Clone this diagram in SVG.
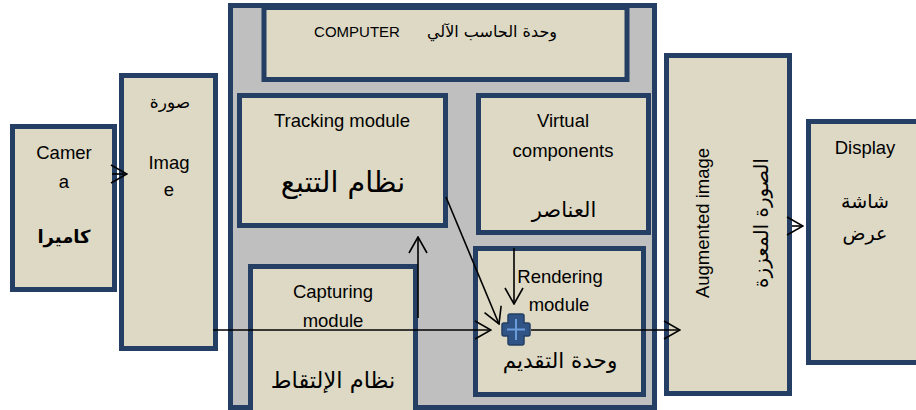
<svg xmlns="http://www.w3.org/2000/svg" width="916" height="410" viewBox="0 0 916 410">
<defs>
<style>
.box{fill:#DDD9C4;stroke:#243F63;stroke-width:5}
.outer{fill:#BFBFBF;stroke:#243F63;stroke-width:5}
.en{font-family:"Liberation Sans",Arial,sans-serif;font-size:18.5px;fill:#000;text-anchor:middle}
.ar{font-family:"DejaVu Sans","Noto Sans",sans-serif;fill:#000;text-anchor:middle}
.ln{stroke:#000;stroke-width:1.6;fill:none}
</style>
<marker id="arr" viewBox="0 0 18 20" refX="17" refY="10" markerWidth="18" markerHeight="20" markerUnits="userSpaceOnUse" orient="auto">
<path d="M1,1 L17,10 L1,19" fill="none" stroke="#000" stroke-width="1.6"/>
</marker>
</defs>

<g id="camera">
<rect class="box" x="12.5" y="126.5" width="102" height="163"/>
<text class="en" x="64" y="159">Camer</text>
<text class="en" x="64" y="188">a</text>
<text class="ar" x="64" y="243" font-size="18" font-weight="bold">كاميرا</text>
</g>

<g id="image">
<rect class="box" x="121.5" y="75.5" width="94" height="273"/>
<text class="ar" x="170" y="108" font-size="17">صورة</text>
<text class="en" x="169" y="169">Imag</text>
<text class="en" x="169" y="196">e</text>
</g>

<g id="computer">
<rect class="outer" x="230.5" y="5.5" width="424" height="402"/>
</g>

<g id="computer-title">
<rect class="box" x="264" y="7.5" width="363" height="72"/>
<text x="357" y="37" font-family="Liberation Sans,Arial,sans-serif" font-size="15" text-anchor="middle">COMPUTER</text>
<text class="ar" x="492" y="37" font-size="16">وحدة الحاسب الآلي</text>
</g>

<g id="tracking">
<rect class="box" x="239.5" y="95.5" width="206" height="130"/>
<text class="en" x="342" y="127">Tracking module</text>
<text class="ar" x="343" y="192" font-size="28.5">نظام التتبع</text>
</g>

<g id="virtual">
<rect class="box" x="478.5" y="95.5" width="170" height="137"/>
<text class="en" x="563" y="127">Virtual</text>
<text class="en" x="563" y="157">components</text>
<text class="ar" x="564" y="217" font-size="21">العناصر</text>
</g>

<g id="capturing">
<rect class="box" x="250.5" y="266.5" width="165" height="150"/>
<text class="en" x="333" y="298">Capturing</text>
<text class="en" x="333" y="327">module</text>
<text class="ar" x="333" y="388" font-size="22.5">نظام الإلتقاط</text>
</g>

<g id="rendering">
<rect class="box" x="475.5" y="248.5" width="168" height="146"/>
<text class="en" x="560" y="283">Rendering</text>
<text class="en" x="559" y="311">module</text>
<text class="ar" x="560" y="368" font-size="21.5">وحدة التقديم</text>
</g>

<g id="augmented">
<rect class="box" x="666.5" y="55.5" width="123" height="338"/>
<text class="en" transform="translate(709,223) rotate(-90)">Augmented image</text>
<text class="ar" font-size="20" transform="translate(768,223) rotate(-90)">الصورة المعززة</text>
</g>

<g id="display">
<rect class="box" x="808.5" y="121.5" width="112" height="241"/>
<text class="en" x="865" y="154">Display</text>
<text class="ar" x="865" y="208" font-size="19">شاشة</text>
<text class="ar" x="865" y="240" font-size="19">عرض</text>
</g>

<g id="connectors">
<line class="ln" x1="112" y1="174" x2="127" y2="174" marker-end="url(#arr)"/>
<line class="ln" x1="213" y1="330" x2="491" y2="330" marker-end="url(#arr)"/>
<line class="ln" x1="418" y1="318" x2="418" y2="237" marker-end="url(#arr)"/>
<line class="ln" x1="446" y1="197" x2="499" y2="324" marker-end="url(#arr)"/>
<line class="ln" x1="514" y1="248" x2="514" y2="304" marker-end="url(#arr)"/>
<line class="ln" x1="531" y1="330" x2="680" y2="330" marker-end="url(#arr)"/>
<line class="ln" x1="792" y1="226" x2="803" y2="226" marker-end="url(#arr)"/>
</g>

<g id="plus">
<path d="M510,314 h12 a2,2 0 0 1 2,2 v7 h4 a2,2 0 0 1 2,2 v9 a2,2 0 0 1 -2,2 h-4 v7 a2,2 0 0 1 -2,2 h-12 a2,2 0 0 1 -2,-2 v-7 h-4 a2,2 0 0 1 -2,-2 v-9 a2,2 0 0 1 2,-2 h4 v-7 a2,2 0 0 1 2,-2 z" fill="#2F5485" stroke="#243F63" stroke-width="1.5"/>
<path d="M516,319 v21 M507,329.5 h18" stroke="#6A9BDA" stroke-width="2"/>
</g>
</svg>
